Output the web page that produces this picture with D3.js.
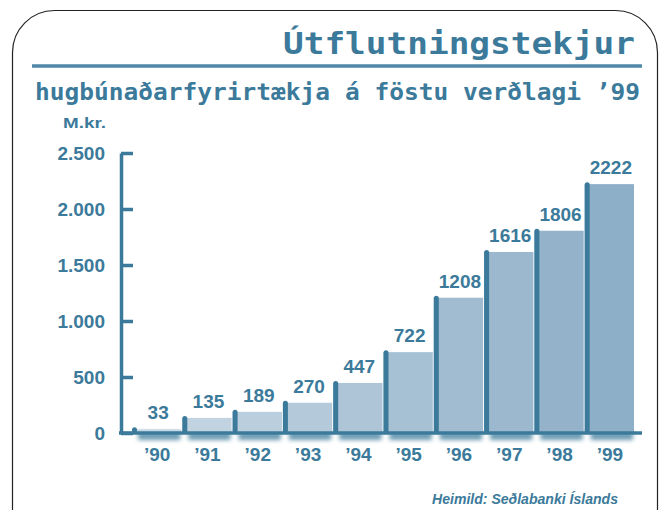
<!DOCTYPE html>
<html lang="is">
<head>
    <meta charset="UTF-8">
    <title>Útflutningstekjur hugbúnaðarfyrirtækja</title>
    <script src="https://d3js.org/d3.v7.min.js"></script>
    <style>
        body { margin: 0; background: #fff; }
    </style>
</head>
<body>
    <div id="chart"></div>

    <script>
        // Data
        const years = ["’90", "’91", "’92", "’93", "’94", "’95", "’96", "’97", "’98", "’99"];
        const values = [33, 135, 189, 270, 447, 722, 1208, 1616, 1806, 2222];
        const yTicks = [0, 500, 1000, 1500, 2000, 2500];
        const yTickLabels = ["0", "500", "1.000", "1.500", "2.000", "2.500"];

        const W = 659, H = 510;
        const ink = "#3b7a9a";
        const num = "'Liberation Sans', Arial, sans-serif";
        const mono = "'DejaVu Sans Mono', monospace";

        const svg = d3.select("#chart")
            .append("svg")
            .attr("width", W)
            .attr("height", H);

        const defs = svg.append("defs");
        defs.append("filter")
            .attr("id", "soft")
            .attr("x", "-20%").attr("y", "-100%")
            .attr("width", "140%").attr("height", "300%")
            .append("feGaussianBlur")
            .attr("stdDeviation", 2);

        // Frame
        svg.append("rect")
            .attr("x", 12.5).attr("y", 10.5)
            .attr("width", 645).attr("height", 540)
            .attr("rx", 42)
            .attr("fill", "none")
            .attr("stroke", "#222")
            .attr("stroke-width", 1.2);

        // Titles
        svg.append("text")
            .attr("x", 283).attr("y", 54)
            .attr("textLength", 352)
            .attr("lengthAdjust", "spacingAndGlyphs")
            .style("font-family", mono)
            .style("font-weight", "bold")
            .style("font-size", "31px")
            .attr("fill", ink)
            .text("Útflutningstekjur");

        svg.append("line")
            .attr("x1", 32).attr("x2", 642)
            .attr("y1", 66).attr("y2", 66)
            .attr("stroke", "#4f87a6")
            .attr("stroke-width", 3.5);

        svg.append("text")
            .attr("x", 35).attr("y", 100)
            .attr("textLength", 605)
            .attr("lengthAdjust", "spacingAndGlyphs")
            .style("font-family", mono)
            .style("font-weight", "bold")
            .style("font-size", "23px")
            .attr("fill", ink)
            .text("hugbúnaðarfyrirtækja á föstu verðlagi ’99");

        svg.append("text")
            .attr("x", 63).attr("y", 128)
            .attr("textLength", 43)
            .attr("lengthAdjust", "spacingAndGlyphs")
            .style("font-family", num)
            .style("font-weight", "bold")
            .style("font-size", "14px")
            .attr("fill", ink)
            .text("M.kr.");

        // Scales
        const x = d3.scaleBand()
            .domain(years)
            .range([132, 635])
            .padding(0);

        const y = d3.scaleLinear()
            .domain([0, 2500])
            .range([433, 153]);

        const fill = d3.scaleLinear()
            .domain([0, years.length - 1])
            .range(["#c7d7e3", "#8eafc8"]);

        // Bars
        const bars = svg.append("g")
            .selectAll("g")
            .data(values)
            .join("g");

        bars.append("rect")
            .attr("x", (d, i) => x(years[i]) + 6)
            .attr("y", 432)
            .attr("width", x.bandwidth() - 8)
            .attr("height", 8)
            .attr("fill", ink)
            .attr("opacity", 0.75)
            .attr("filter", "url(#soft)");

        bars.append("rect")
            .attr("x", (d, i) => x(years[i]))
            .attr("y", d => y(d))
            .attr("width", x.bandwidth() - 1)
            .attr("height", d => y(0) - y(d))
            .attr("fill", (d, i) => fill(i));

        bars.append("rect")
            .attr("x", (d, i) => x(years[i]))
            .attr("y", d => y(d) - 2)
            .attr("width", 5)
            .attr("height", d => y(0) - y(d) + 2)
            .attr("rx", 2.5)
            .attr("fill", ink);

        bars.append("text")
            .attr("x", (d, i) => x(years[i]) + x.bandwidth() / 2 + 1)
            .attr("y", d => y(d) - 10)
            .attr("text-anchor", "middle")
            .style("font-family", num)
            .style("font-weight", "bold")
            .style("font-size", "19px")
            .attr("fill", ink)
            .text(d => d);

        // Y axis
        const yAxis = svg.append("g")
            .attr("transform", "translate(121,0)")
            .call(d3.axisLeft(y)
                .tickValues(yTicks)
                .tickFormat((d, i) => yTickLabels[i])
                .tickSizeInner(-12)
                .tickSizeOuter(0)
                .tickPadding(16));

        yAxis.select(".domain")
            .attr("stroke", ink)
            .attr("stroke-width", 3.5);
        yAxis.selectAll(".tick line")
            .attr("stroke", ink)
            .attr("stroke-width", 3.5);
        yAxis.selectAll(".tick text")
            .attr("fill", ink)
            .style("font-family", num)
            .style("font-weight", "bold")
            .style("font-size", "19px");

        // X axis
        svg.append("line")
            .attr("x1", 119).attr("x2", 642)
            .attr("y1", 433).attr("y2", 433)
            .attr("stroke", ink)
            .attr("stroke-width", 3.5);

        const xAxis = svg.append("g")
            .attr("transform", "translate(0,433)")
            .call(d3.axisBottom(x).tickSize(0).tickPadding(15));

        xAxis.select(".domain").remove();
        xAxis.selectAll(".tick text")
            .attr("fill", ink)
            .style("font-family", num)
            .style("font-weight", "bold")
            .style("font-size", "19px");

        // Source
        svg.append("text")
            .attr("x", 432).attr("y", 504)
            .attr("textLength", 186)
            .attr("lengthAdjust", "spacingAndGlyphs")
            .style("font-family", "'Liberation Sans Narrow', 'Liberation Sans', sans-serif")
            .style("font-weight", "bold")
            .style("font-style", "italic")
            .style("font-size", "14px")
            .attr("fill", ink)
            .text("Heimild: Seðlabanki Íslands");
    </script>
</body>
</html>
